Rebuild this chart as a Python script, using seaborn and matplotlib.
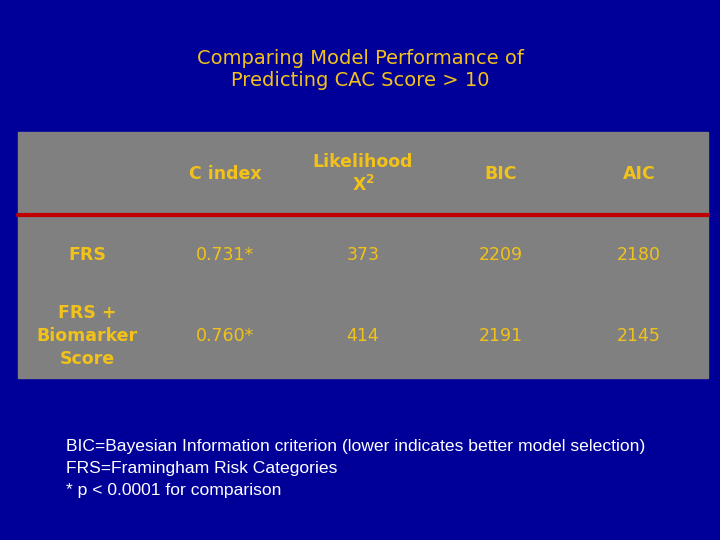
import matplotlib
matplotlib.use("Agg")
import matplotlib.pyplot as plt
import seaborn as sns

sns.set_theme(style="white")
plt.rcParams['font.family'] = ['DejaVu Sans']

title = "Comparing Model Performance of\nPredicting CAC Score > 10"
columns = ["C index", "Likelihood\n$\\mathbf{X^2}$", "BIC", "AIC"]
row_labels = ["FRS", "FRS +\nBiomarker\nScore"]
c_index = ["0.731*", "0.760*"]
likelihood = ["373", "414"]
bic = ["2209", "2191"]
aic = ["2180", "2145"]
notes = ["BIC=Bayesian Information criterion (lower indicates better model selection)",
         "FRS=Framingham Risk Categories",
         "* p < 0.0001 for comparison"]

BG = "#000099"
YEL = "#F2C21A"
fig = plt.figure(figsize=(7.2, 5.4), dpi=100, facecolor=BG)
ax = fig.add_axes([0, 0, 1, 1])
ax.set_xlim(0, 720); ax.set_ylim(540, 0); ax.axis("off")
ax.set_facecolor(BG)

ax.text(360, 70, title, ha="center", va="center", color=YEL, fontsize=14, linespacing=1.2)
ax.add_patch(plt.Rectangle((18, 132), 690, 246, color="#808080", zorder=0))
ax.plot([18, 708], [215, 215], color="#C00000", lw=3)

xs = [87, 225, 363, 501, 639]
for i, c in enumerate(columns):
    ax.text(xs[i + 1], 174, c, ha="center", va="center", color=YEL, fontsize=12.5,
            fontweight="bold", linespacing=1.3)
rows_y = [255, 336]
data = list(zip(c_index, likelihood, bic, aic))
for r, lab in enumerate(row_labels):
    ax.text(xs[0], rows_y[r], lab, ha="center", va="center", color=YEL, fontsize=12.5,
            fontweight="bold", linespacing=1.35)
    for j, v in enumerate(data[r]):
        ax.text(xs[j + 1], rows_y[r], v, ha="center", va="center", color=YEL, fontsize=12.5)

for k, n in enumerate(notes):
    ax.text(66, 446 + 22 * k, n, ha="left", va="center", color="white",
            fontsize=12.6, family="Liberation Sans")

fig.savefig("out.png", dpi=100, facecolor=BG)
